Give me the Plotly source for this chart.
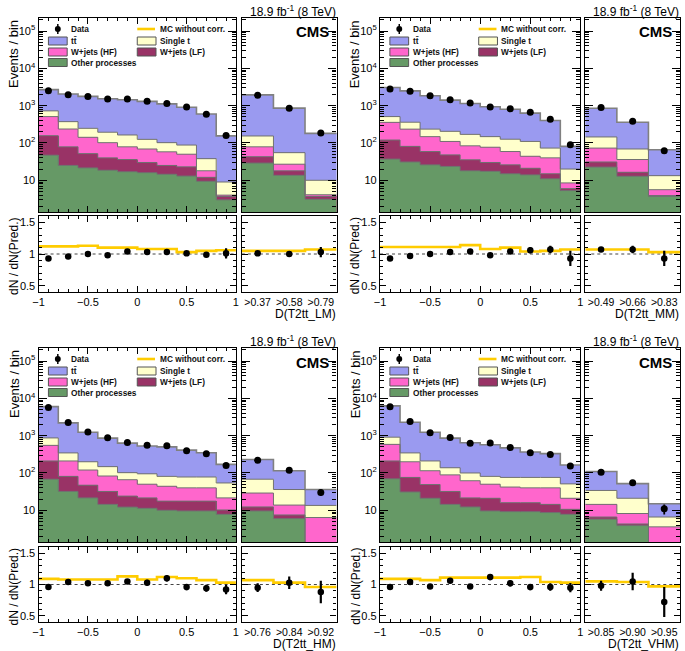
import numpy as np
import plotly.graph_objects as go

FIG_W, FIG_H = 685, 651
FONT = "Liberation Sans"

# ---------------- data ----------------
left_edges = [-1.0, -0.8, -0.6, -0.4, -0.2, 0.0, 0.2, 0.4, 0.6, 0.8, 1.0]
right_edges = [0, 1, 2, 3]
left_tickvals = [-1, -0.5, 0, 0.5, 1]
left_ticktext = ["\u22121", "\u22120.5", "0", "0.5", "1"]

# each list: 10 bins of D in [-1,1] followed by 3 high-D bins
# cumulative stack heights: other < +W+jets(LF) < +W+jets(HF) < +single t < +ttbar (total)
LM_labels = [">0.37", ">0.58", ">0.79"]
LM_total = [2700, 2050, 1770, 1530, 1440, 1300, 1120, 910, 600, 155, 1950, 860, 181]
LM_upto_st = [725, 373, 247, 194, 164, 125, 102, 88, 38, 9, 154, 55, 10]
LM_upto_hf = [510, 237, 142, 102, 79, 69, 58, 50, 18, 4, 79, 27, 4.1]
LM_upto_lf = [157, 79, 52, 40, 36, 30, 25, 23, 12, 3.7, 43, 18, 3.7]
LM_other = [47, 25, 21.5, 18.6, 17, 16, 14.5, 13, 9.4, 3.0, 29, 13.6, 3.1]
LM_data = [2500, 1950, 1750, 1500, 1500, 1320, 1150, 920, 590, 158, 1900, 850, 185]
LM_ratio = [0.93, 0.96, 1.0, 0.98, 1.04, 1.03, 1.03, 1.01, 0.99, 1.01, 1.01, 1.0, 1.03]
LM_ratio_err = [0.015, 0.015, 0.02, 0.02, 0.02, 0.02, 0.025, 0.03, 0.04, 0.08, 0.02, 0.04, 0.08]
LM_mc_nocorr = [1.12, 1.12, 1.13, 1.10, 1.10, 1.08, 1.08, 1.03, 1.05, 1.06, 1.05, 1.05, 1.07]

MM_labels = [">0.49", ">0.66", ">0.83"]
MM_total = [3080, 2500, 1850, 1410, 1140, 940, 800, 630, 400, 81, 850, 360, 66]
MM_upto_st = [510, 360, 235, 205, 170, 148, 126, 110, 73, 20, 145, 69, 13.3]
MM_upto_hf = [357, 235, 148, 110, 84, 77, 59, 44, 40, 8.5, 73, 36, 5.6]
MM_upto_lf = [120, 81, 59, 48, 35.5, 30, 26, 21, 15, 6.0, 31, 16.4, 3.9]
MM_other = [37, 31, 26, 23.5, 18, 17.4, 15, 14, 11, 5.3, 22.6, 12.8, 3.7]
MM_data = [2800, 2450, 1850, 1450, 1180, 920, 830, 670, 430, 90, 900, 380, 62]
MM_ratio = [0.93, 0.97, 1.0, 1.03, 1.04, 0.98, 1.04, 1.06, 1.07, 0.93, 1.07, 1.07, 0.93]
MM_ratio_err = [0.015, 0.015, 0.02, 0.02, 0.025, 0.025, 0.04, 0.05, 0.06, 0.12, 0.04, 0.06, 0.12]
MM_mc_nocorr = [1.11, 1.11, 1.11, 1.11, 1.14, 1.08, 1.10, 1.04, 1.05, 1.07, 1.07, 1.07, 1.03]

HM_labels = [">0.76", ">0.84", ">0.92"]
HM_total = [6000, 2200, 1240, 860, 630, 530, 500, 410, 350, 170, 230, 115, 36]
HM_upto_st = [870, 345, 200, 148, 102, 95, 81, 78, 78, 54, 68, 36, 13.5]
HM_upto_hf = [550, 210, 120, 83, 66, 50, 44, 40, 40, 21.5, 29, 13.8, 6.4]
HM_upto_lf = [210, 81, 47, 32, 24, 21.5, 17.6, 17.6, 17.6, 10.2, 12.3, 7.5, 1.2]
HM_other = [68, 32, 21.5, 14.4, 12.2, 11.3, 10, 9.6, 9.6, 7.8, 9.6, 6.0, 1.0]
HM_data = [5700, 2250, 1260, 880, 660, 550, 540, 395, 330, 158, 220, 118, 30]
HM_ratio = [0.96, 1.04, 1.02, 1.02, 1.05, 1.03, 1.10, 0.96, 0.94, 0.92, 0.95, 1.03, 0.88]
HM_ratio_err = [0.015, 0.02, 0.03, 0.035, 0.04, 0.045, 0.05, 0.05, 0.055, 0.075, 0.07, 0.1, 0.18]
HM_mc_nocorr = [1.09, 1.08, 1.08, 1.08, 1.13, 1.08, 1.12, 1.10, 1.07, 1.03, 1.07, 1.03, 0.96]

VHM_labels = [">0.85", ">0.90", ">0.95"]
VHM_total = [6300, 2300, 1240, 860, 645, 570, 470, 365, 330, 163, 110, 52, 15]
VHM_upto_st = [910, 345, 210, 138, 100, 81, 76, 76, 76, 51, 34, 21, 6.6]
VHM_upto_hf = [585, 200, 115, 89, 62, 50, 42, 40, 40, 21, 14.4, 8.2, 3.6]
VHM_upto_lf = [210, 76, 49, 32, 21.5, 21, 16, 16, 14.4, 10.6, 6.6, 4.3, 1.0]
VHM_other = [70, 31, 21, 14.4, 12.3, 9.6, 9.2, 9.2, 8.7, 7.8, 5.8, 3.9, 0.8]
VHM_data = [6000, 2380, 1200, 900, 625, 640, 480, 350, 315, 155, 105, 55, 11]
VHM_ratio = [0.96, 1.04, 0.97, 1.06, 0.97, 1.12, 1.02, 0.96, 0.96, 0.95, 0.98, 1.05, 0.72]
VHM_ratio_err = [0.015, 0.02, 0.025, 0.035, 0.04, 0.05, 0.05, 0.05, 0.06, 0.075, 0.08, 0.14, 0.24]
VHM_mc_nocorr = [1.09, 1.09, 1.07, 1.11, 1.11, 1.11, 1.11, 1.12, 1.04, 1.03, 1.05, 1.04, 0.97]

panels = [
    dict(title="D(T2tt_LM)", labels=LM_labels, total=LM_total, st=LM_upto_st, hf=LM_upto_hf,
         lf=LM_upto_lf, other=LM_other, data=LM_data, ratio=LM_ratio, rerr=LM_ratio_err, mc=LM_mc_nocorr),
    dict(title="D(T2tt_MM)", labels=MM_labels, total=MM_total, st=MM_upto_st, hf=MM_upto_hf,
         lf=MM_upto_lf, other=MM_other, data=MM_data, ratio=MM_ratio, rerr=MM_ratio_err, mc=MM_mc_nocorr),
    dict(title="D(T2tt_HM)", labels=HM_labels, total=HM_total, st=HM_upto_st, hf=HM_upto_hf,
         lf=HM_upto_lf, other=HM_other, data=HM_data, ratio=HM_ratio, rerr=HM_ratio_err, mc=HM_mc_nocorr),
    dict(title="D(T2tt_VHM)", labels=VHM_labels, total=VHM_total, st=VHM_upto_st, hf=VHM_upto_hf,
         lf=VHM_upto_lf, other=VHM_other, data=VHM_data, ratio=VHM_ratio, rerr=VHM_ratio_err, mc=VHM_mc_nocorr),
]

# ---------------- style ----------------
C_TT = "#9a9af0"
C_ST = "#ffffcc"
C_HF = "#ff66cc"
C_LF = "#993366"
C_OTHER = "#669966"
C_MC = "#ffcc00"
C_EDGE = "#707070"

cols = [(33, 233, 239, 335), (379, 582, 587, 683)]
rows = [(18, 212, 216, 292), (348, 542, 547, 622)]
ytitle_x = [8, 354]

LOG_RANGE = [0.15, 5.35]
RATIO_RANGE = [0.4, 1.6]


def fx(x):
    return x / FIG_W


def fy(y):
    return 1 - y / FIG_H


def aname(kind, n):
    return f"{kind}axis" if n == 1 else f"{kind}axis{n}"


def aref(kind, n):
    return kind if n == 1 else f"{kind}{n}"


fig = go.Figure()
layout_axes = {}
shapes = []
annotations = []

base_axis = dict(showline=True, linecolor="black", linewidth=1.3, mirror="ticks",
                 ticks="inside", ticklen=6, tickwidth=1, tickcolor="black",
                 showgrid=False, zeroline=False,
                 tickfont=dict(family=FONT, size=11, color="black"))

log_minor_vals = [m * 10 ** e for e in range(0, 6) for m in range(2, 10)]

for p, P in enumerate(panels):
    r, c = divmod(p, 2)
    x0, x1, x2, x3 = cols[c]
    ym0, ym1, yr0, yr1 = rows[r]
    n = {"ML": p * 4 + 1, "MR": p * 4 + 2, "RL": p * 4 + 3, "RR": p * 4 + 4}
    xdom = {"ML": (x0, x1), "MR": (x2, x3), "RL": (x0, x1), "RR": (x2, x3)}
    ydom = {"ML": (ym0, ym1), "MR": (ym0, ym1), "RL": (yr0, yr1), "RR": (yr0, yr1)}

    for key, k in n.items():
        xa = dict(base_axis)
        ya = dict(base_axis)
        xa["domain"] = [fx(xdom[key][0]), fx(xdom[key][1])]
        ya["domain"] = [fy(ydom[key][1]), fy(ydom[key][0])]
        xa["anchor"] = aref("y", k)
        ya["anchor"] = aref("x", k)
        if key in ("ML", "RL"):
            xa.update(range=[-1, 1], tickmode="array", tickvals=left_tickvals, ticktext=left_ticktext,
                      minor=dict(ticks="inside", ticklen=3, dtick=0.1, tickcolor="black", showgrid=False))
        else:
            xa.update(range=[0, 3], tickmode="array", tickvals=[0.5, 1.5, 2.5], ticktext=P["labels"],
                      ticklen=0, tickfont=dict(family=FONT, size=10.5, color="black"))
        xa["showticklabels"] = key in ("RL", "RR")
        if key in ("ML", "MR"):
            ya.update(type="log", range=LOG_RANGE, tickmode="array",
                      tickvals=[10, 100, 1000, 1e4, 1e5],
                      ticktext=["10", "10<sup>2</sup>", "10<sup>3</sup>", "10<sup>4</sup>", "10<sup>5</sup>"],
                      ticklen=8,
                      minor=dict(ticks="inside", ticklen=4, tickmode="array", tickvals=log_minor_vals,
                                 tickcolor="black", showgrid=False))
        else:
            ya.update(range=RATIO_RANGE, tickmode="array", tickvals=[0.5, 1, 1.5], ticktext=["0.5", "1", "1.5"],
                      minor=dict(ticks="inside", ticklen=3, dtick=0.1, tickcolor="black", showgrid=False))
        ya["showticklabels"] = key in ("ML", "RL")
        layout_axes[aname("x", k)] = xa
        layout_axes[aname("y", k)] = ya

    for side in ("L", "R"):
        sl = slice(0, 10) if side == "L" else slice(10, 13)
        edges = left_edges if side == "L" else right_edges
        centers = [(edges[i] + edges[i + 1]) / 2 for i in range(len(edges) - 1)]
        widths = [edges[i + 1] - edges[i] for i in range(len(edges) - 1)]
        km = n["M" + side]
        kr = n["R" + side]
        xm, ymr = aref("x", km), aref("y", km)
        xr, yrr = aref("x", kr), aref("y", kr)

        levels = [(P["total"], C_TT, 1.6, "#808080"), (P["st"], C_ST, 1, C_EDGE),
                  (P["hf"], C_HF, 1, C_EDGE), (P["lf"], C_LF, 1, C_EDGE),
                  (P["other"], C_OTHER, 1, C_EDGE)]
        for vals, col, _, _ in levels:
            fig.add_trace(go.Bar(x=centers, y=vals[sl], width=widths, marker=dict(color=col, line=dict(width=0)),
                                 opacity=1, xaxis=xm, yaxis=ymr, showlegend=False, hoverinfo="skip"))
        for vals, _, lw, lc in levels:
            v = list(vals[sl])
            fig.add_trace(go.Scatter(x=edges, y=v + [v[-1]], mode="lines", line=dict(shape="hv", color=lc, width=lw),
                                     xaxis=xm, yaxis=ymr, showlegend=False, hoverinfo="skip"))
        d = np.array(P["data"][sl], dtype=float)
        fig.add_trace(go.Scatter(x=centers, y=d, mode="markers",
                                 marker=dict(color="black", size=7),
                                 error_y=dict(type="data", array=np.sqrt(d), color="black", thickness=1.8, width=0),
                                 xaxis=xm, yaxis=ymr, showlegend=False, hoverinfo="skip"))
        # ratio panel
        shapes.append(dict(type="line", xref=xr, yref=yrr, x0=edges[0], x1=edges[-1], y0=1, y1=1,
                           line=dict(color="#444444", width=1, dash="dot"), layer="below"))
        mv = list(P["mc"][sl])
        fig.add_trace(go.Scatter(x=edges, y=mv + [mv[-1]], mode="lines",
                                 line=dict(shape="hv", color=C_MC, width=2.6),
                                 xaxis=xr, yaxis=yrr, showlegend=False, hoverinfo="skip"))
        fig.add_trace(go.Scatter(x=centers, y=P["ratio"][sl], mode="markers",
                                 marker=dict(color="black", size=6.5),
                                 error_y=dict(type="data", array=P["rerr"][sl], color="black", thickness=2.2, width=0),
                                 xaxis=xr, yaxis=yrr, showlegend=False, hoverinfo="skip"))

    # ---- text ----
    annotations.append(dict(text="Events / bin", x=fx(ytitle_x[c]), y=fy(ym0), xref="paper", yref="paper",
                            xanchor="center", yanchor="top", textangle=-90, showarrow=False,
                            font=dict(family=FONT, size=13, color="black")))
    annotations.append(dict(text="dN / dN(Pred.)", x=fx(ytitle_x[c]), y=fy((yr0 + yr1) / 2 + 2), xref="paper",
                            yref="paper", xanchor="center", yanchor="middle", textangle=-90, showarrow=False,
                            font=dict(family=FONT, size=12, color="black")))
    annotations.append(dict(text="18.9 fb<sup>-1</sup> (8 TeV)", x=fx(x3 + 1), y=fy(ym0 - 7), xref="paper",
                            yref="paper", xanchor="right", yanchor="middle", showarrow=False,
                            font=dict(family=FONT, size=12, color="black")))
    annotations.append(dict(text="<b>CMS</b>", x=fx(x3 - 6), y=fy(ym0 + 14), xref="paper", yref="paper",
                            xanchor="right", yanchor="middle", showarrow=False,
                            font=dict(family=FONT, size=15, color="black")))
    annotations.append(dict(text=P["title"], x=fx(x3 + 1), y=fy(yr1 + 22), xref="paper", yref="paper",
                            xanchor="right", yanchor="middle", showarrow=False,
                            font=dict(family=FONT, size=12, color="black")))

    # ---- legend ----
    rows_y = [ym0 + 11, ym0 + 23, ym0 + 34, ym0 + 44.5]
    lx = x0 + 10
    rx = x0 + 100
    # Data marker
    cxm = lx + 9.5
    shapes.append(dict(type="line", xref="paper", yref="paper", x0=fx(cxm), x1=fx(cxm),
                       y0=fy(rows_y[0] - 5), y1=fy(rows_y[0] + 5), line=dict(color="black", width=1.5)))
    shapes.append(dict(type="circle", xref="paper", yref="paper", x0=fx(cxm - 3), x1=fx(cxm + 3),
                       y0=fy(rows_y[0] + 3), y1=fy(rows_y[0] - 3), fillcolor="black", line=dict(color="black", width=0)))
    # MC line
    shapes.append(dict(type="line", xref="paper", yref="paper", x0=fx(rx), x1=fx(rx + 18),
                       y0=fy(rows_y[0]), y1=fy(rows_y[0]), line=dict(color=C_MC, width=2.6)))
    boxes = [(lx, rows_y[1], C_TT, "t" + "t\u0304"), (lx, rows_y[2], C_HF, "W+jets (HF)"),
             (lx, rows_y[3], C_OTHER, "Other processes"), (rx, rows_y[1], C_ST, "Single t"),
             (rx, rows_y[2], C_LF, "W+jets (LF)")]
    for bx, by, bc, _ in boxes:
        shapes.append(dict(type="rect", xref="paper", yref="paper", x0=fx(bx), x1=fx(bx + 19),
                           y0=fy(by + 4), y1=fy(by - 4), fillcolor=bc, line=dict(color="#555555", width=1)))
    texts = [(lx, rows_y[0], "Data"), (rx, rows_y[0], "MC without corr.")] + [(bx, by, t) for bx, by, _, t in boxes]
    for tx, ty, t in texts:
        annotations.append(dict(text="<b>" + t + "</b>", x=fx(tx + 21), y=fy(ty), xref="paper", yref="paper",
                                xanchor="left", yanchor="middle", showarrow=False,
                                font=dict(family=FONT, size=8.3, color="#111111")))

fig.update_layout(
    width=FIG_W, height=FIG_H,
    margin=dict(l=0, r=0, t=0, b=0),
    paper_bgcolor="white", plot_bgcolor="white",
    barmode="overlay", bargap=0,
    showlegend=False,
    shapes=shapes, annotations=annotations,
    font=dict(family=FONT, color="black"),
    **layout_axes,
)

fig.write_html("out.html", config={"displayModeBar": False},
               post_script="document.body.style.margin='0';document.body.style.overflow='hidden';")
